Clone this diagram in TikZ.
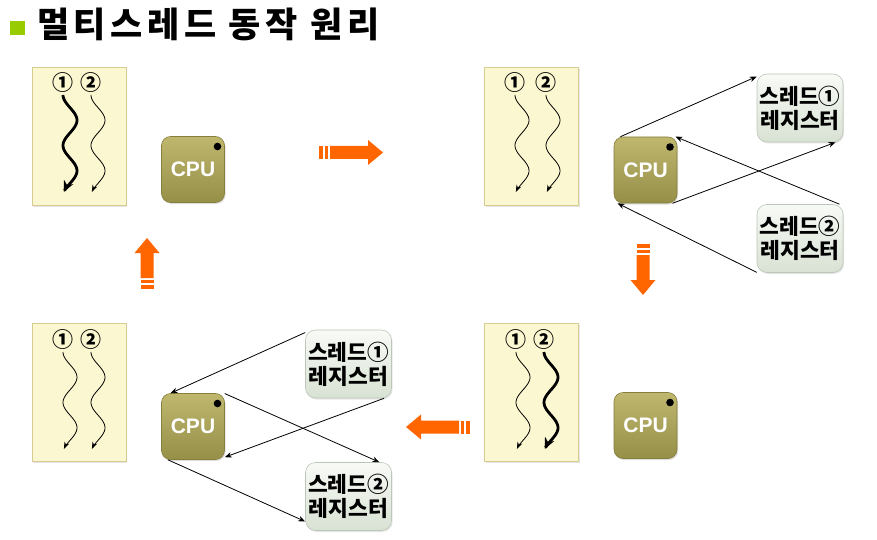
\documentclass[tikz,border=0pt]{standalone}
\usepackage{fontspec}
\newfontfamily\krfont{Noto Sans CJK KR}
\newfontfamily\krwidefont[LetterSpace=13]{Noto Sans CJK KR}
\newfontfamily\cpufont{Liberation Sans}
\usetikzlibrary{arrows.meta,shadows}
\definecolor{tasklight}{HTML}{FBF7D0}
\definecolor{taskedge}{HTML}{D6CC92}
\definecolor{cputop}{HTML}{BFB76E}
\definecolor{cpubottom}{HTML}{968F48}
\definecolor{cpuedge}{HTML}{857E3C}
\definecolor{regtop}{HTML}{F8FAF6}
\definecolor{regbottom}{HTML}{D8E2D3}
\definecolor{regedge}{HTML}{BCC6B8}
\definecolor{bullet}{HTML}{99CC00}
\definecolor{flow}{HTML}{FF6600}
\tikzset{
    % --- boxes ---
    task/.style={draw=taskedge, fill=tasklight, line width=0.8pt,
                 minimum width=94pt, minimum height=138pt, inner sep=0pt,
                 drop shadow={opacity=0.2, shadow xshift=1pt, shadow yshift=-1.5pt}},
    cpu/.style={draw=cpuedge, line width=0.6pt, rounded corners=9pt,
                top color=cputop, bottom color=cpubottom,
                minimum width=63pt, minimum height=66pt, inner sep=0pt,
                text=white, font=\cpufont\bfseries\fontsize{21}{24}\selectfont,
                drop shadow={opacity=0.25, shadow xshift=1pt, shadow yshift=-1.5pt},
                path picture={\fill ([xshift=-7pt,yshift=-10pt]path picture bounding box.north east) circle[radius=3.8pt];}},
    register/.style={draw=regedge, line width=0.6pt, rounded corners=10pt,
                top color=regtop, bottom color=regbottom,
                minimum width=86pt, minimum height=68pt, inner sep=0pt,
                align=center, font=\krfont\bfseries\fontsize{21.5}{24}\selectfont,
                drop shadow={opacity=0.2, shadow xshift=1pt, shadow yshift=-1.5pt}},
    num/.style={inner sep=0pt, font=\krfont\bfseries\fontsize{21}{21}\selectfont},
    heading/.style={inner sep=0pt, font=\krwidefont\bfseries\fontsize{35}{40}\selectfont},
    % --- lines ---
    link/.style={line width=0.8pt, -{Stealth[length=7pt,width=5.5pt]}},
    thinthread/.style={line width=0.8pt, -{Stealth[length=7pt,width=5pt]}},
    thickthread/.style={line width=2.8pt, -{Stealth[length=11pt,width=10pt]}},
    % wavy thread, starting at the pic's position
    pics/thread/.style={code={
        \draw[#1] plot[domain=0:0.96, samples=60, smooth]
            ({7*(1-cos(720*\x))}, {101*\x});
    }},
    % orange block arrow, tip at the pic's position
    pics/bigarrow/.style={code={
        \fill[flow] (0,0) -- (-15,-12.5) -- (-15,-6.5) -- (-15-#1,-6.5)
            -- (-15-#1,6.5) -- (-15,6.5) -- (-15,12.5) -- cycle;
        \fill[flow] (-17-#1,-6.5) rectangle (-20-#1,6.5);
        \fill[flow] (-22-#1,-6.5) rectangle (-26-#1,6.5);
    }}
}
\begin{document}
\begin{tikzpicture}[x=1pt, y=-1pt]
    \useasboundingbox (0,0) rectangle (877,540);

    % title
    \fill[bullet] (10,21) rectangle (25,35);
    \node[heading, anchor=base west] (title) at (37,38) {멀티스레드 동작 원리};

    % step 1: thread 1 runs
    \node[task] (taskA) at (79,136.5) {};
    \node[num] (numAone) at (63,83) {①};
    \node[num] (numAtwo) at (91,83) {②};
    \pic at (63,95) {thread=thickthread};
    \pic at (91,95) {thread=thinthread};
    \node[cpu] (cpuA) at (193,169.5) {CPU};

    \pic at (383,152.5) {bigarrow=38};

    % step 2: switching registers
    \node[task] (taskB) at (531.5,136.5) {};
    \node[num] (numBone) at (515,83) {①};
    \node[num] (numBtwo) at (546,83) {②};
    \pic at (515,95) {thread=thinthread};
    \pic at (546,95) {thread=thinthread};
    \node[cpu] (cpuB) at (645.5,170) {CPU};
    \node[register] (regBone) at (800,108) {스레드①\\레지스터};
    \node[register] (regBtwo) at (800,238.5) {스레드②\\레지스터};

    \draw[link] (cpuB.127) -- (regBone.144);
    \draw[link] (cpuB.-51) -- (regBone.-44);
    \draw[link] (regBtwo.41) -- (cpuB.48);
    \draw[link] (regBtwo.-142) -- (cpuB.-130);

    \pic[rotate=-90] at (643,295) {bigarrow=25};

    % step 3: thread 2 runs
    \node[task] (taskC) at (531.5,392) {};
    \node[num] (numCone) at (516,340) {①};
    \node[num] (numCtwo) at (544,340) {②};
    \pic at (516,352) {thread=thinthread};
    \pic at (544,352) {thread=thickthread};
    \node[cpu] (cpuC) at (645.5,425.5) {CPU};

    \pic[rotate=180] at (406,427) {bigarrow=38};

    % step 4: switching back
    \node[task] (taskD) at (79,392) {};
    \node[num] (numDone) at (63,340) {①};
    \node[num] (numDtwo) at (91,340) {②};
    \pic at (63,352) {thread=thinthread};
    \pic at (91,352) {thread=thinthread};
    \node[cpu] (cpuD) at (193,426.5) {CPU};
    \node[register] (regDone) at (348.5,364) {스레드①\\레지스터};
    \node[register] (regDtwo) at (348.5,496.5) {스레드②\\레지스터};

    \draw[link] (regDone.144) -- (cpuD.124);
    \draw[link] (regDone.-44) -- (cpuD.-44);
    \draw[link] (cpuD.46) -- (regDtwo.48);
    \draw[link] (cpuD.-127) -- (regDtwo.-150);

    \pic[rotate=90] at (147,238) {bigarrow=25};
\end{tikzpicture}
\end{document}
